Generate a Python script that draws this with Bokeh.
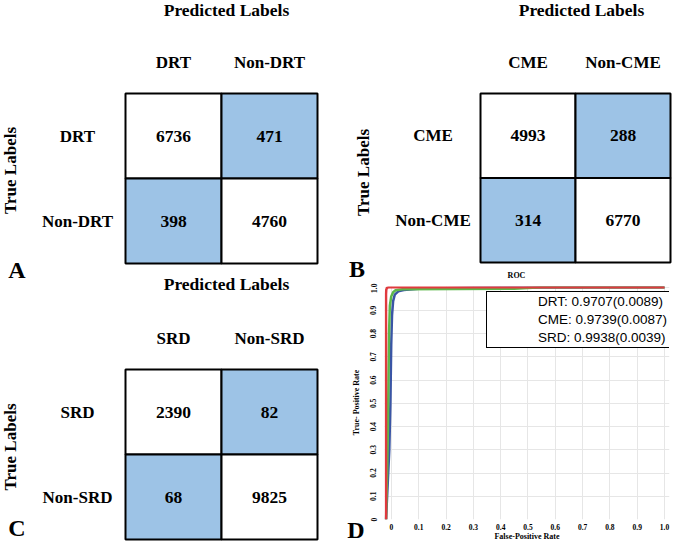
import math
from bokeh.plotting import figure
from bokeh.layouts import row, column
from bokeh.models import (ColumnDataSource, Range1d, LabelSet,
                          Legend, LegendItem, FixedTicker)
from bokeh.core.properties import value
from bokeh.embed import file_html
from bokeh.resources import INLINE

# ---------------- data ----------------
drt_classes = ["DRT", "Non-DRT"]
drt_counts = [6736, 471, 398, 4760]          # rows = true, cols = predicted
cme_classes = ["CME", "Non-CME"]
cme_counts = [4993, 288, 314, 6770]
srd_classes = ["SRD", "Non-SRD"]
srd_counts = [2390, 82, 68, 9825]

roc_names = ["DRT", "CME", "SRD"]
roc_auc = ["0.9707", "0.9739", "0.9938"]
roc_sd = ["0.0089", "0.0087", "0.0039"]

fpr_drt = [-0.02, -0.014, -0.008, -0.004, -0.001, 0.002, 0.006, 0.012, 0.025, 0.045, 0.1, 0.3, 1.0]
tpr_drt = [0.0, 0.15, 0.3, 0.5, 0.75, 0.88, 0.94, 0.968, 0.982, 0.988, 0.993, 0.998, 1.0]
fpr_cme = [-0.02, -0.016, -0.013, -0.011, -0.009, -0.006, -0.001, 0.006, 0.015, 0.04, 0.45, 0.55, 1.0]
tpr_cme = [0.0, 0.2, 0.4, 0.6, 0.8, 0.92, 0.96, 0.978, 0.987, 0.991, 0.993, 1.0, 1.0]
fpr_srd = [-0.02, -0.02, -0.019, -0.016, -0.01, 1.0]
tpr_srd = [0.0, 0.97, 0.99, 0.998, 1.0, 1.0]

roc_ticks = [0, 0.1, 0.2, 0.3, 0.4, 0.5, 0.6, 0.7, 0.8, 0.9, 1.0]
roc_tick_labels = ["0", "0.1", "0.2", "0.3", "0.4", "0.5", "0.6", "0.7", "0.8", "0.9", "1.0"]

# ---------------- styles ----------------
SERIF = "Liberation Serif"
SANS = "Liberation Sans"
CELL_BLUE = "#9dc3e6"
CURVE_COLORS = ["#3a55a5", "#5db84a", "#e03a3e"]


def label_set(p, xs, ys, texts, size, dx=0, dy=0, angle=0.0):
    src = ColumnDataSource(dict(x=xs, y=ys, text=texts))
    ls = LabelSet(x="x", y="y", text="text", source=src, x_offset=dx, y_offset=dy,
                  angle=angle, text_align="center", text_baseline="middle",
                  text_font=value(SERIF), text_font_style="bold",
                  text_font_size=size, text_color="black")
    p.add_layout(ls)
    return ls


def panel_figure(W, H, cw, ch, ox, oy):
    """Full-frame panel; one data unit = one matrix cell (cw x ch pixels),
    data origin at pixel (ox, oy) measured from the panel's top-left."""
    p = figure(width=W, height=H,
               x_range=Range1d(-ox / cw, (W - ox) / cw),
               y_range=Range1d(-(H - oy) / ch, oy / ch),
               x_axis_location=None, y_axis_location=None,
               toolbar_location=None, tools="", output_backend="svg",
               min_border=0, title=None)
    p.frame_align = False
    p.grid.visible = False
    p.outline_line_color = None
    return p


def draw_matrix(p, classes, counts, by, col_dy, title_dx, title_dy, row_dx,
                ylab_dx, ylab_dy, letter=None, letter_dx=0, letter_dy=0):
    n = len(classes)
    xs, ys, txt, cols = [], [], [], []
    for i, t in enumerate(classes):
        for j, pr in enumerate(classes):
            xs.append(j + 0.5)
            ys.append(by + n - 1 - i + 0.5)
            txt.append(str(counts[i * n + j]))
            cols.append("white" if i == j else CELL_BLUE)
    src = ColumnDataSource(dict(x=xs, y=ys, text=txt, color=cols))
    p.rect(x="x", y="y", width=1, height=1, source=src, fill_color="color",
           line_color="black", line_width=2)
    p.text(x="x", y="y", text="text", source=src, text_align="center",
           text_baseline="middle", text_font=value(SERIF), text_font_style="bold",
           text_font_size="17.5px", text_color="black")
    centers = [k + 0.5 for k in range(n)]
    top = by + n
    label_set(p, centers, [top] * n, list(classes), "17px", 0, col_dy)
    label_set(p, [n / 2], [top], ["Predicted Labels"], "17.5px", title_dx, title_dy)
    label_set(p, [0] * n, [by + c for c in centers[::-1]], list(classes), "17px", row_dx, 0)
    label_set(p, [0], [by + n / 2], ["True Labels"], "17px", ylab_dx, ylab_dy, math.pi / 2)
    if letter:
        label_set(p, [0], [by], [letter], "24px", letter_dx, letter_dy)


# left column: panels A and C share one full-frame figure
pL = panel_figure(336, 543, 96, 85, 125, 539)
draw_matrix(pL, drt_classes, drt_counts, (539 - 263) / 85, 31, 5, 84, -48, -115, 8,
            "A", -108.5, -6)
draw_matrix(pL, srd_classes, srd_counts, 0, 31, 5, 86, -48, -115, 7.5,
            "C", -108.5, 11.5)

# right top: panel B
pB = panel_figure(337, 283, 95, 84.5, 144, 262)
draw_matrix(pB, cme_classes, cme_counts, 0, 31, 6, 84, -47.5, -117.5, 5.5,
            "B", -123.5, -6.5)
label_set(pB, [0], [0], ["ROC"], "8px", 36, -13)

# right bottom: strip with the y-axis title and the panel letter, then the ROC plot
pS = figure(width=30, height=260, x_range=Range1d(0, 1), y_range=Range1d(0, 1),
            x_axis_location=None, y_axis_location=None, toolbar_location=None,
            tools="", output_backend="svg", min_border=0, title=None)
pS.frame_align = False
pS.grid.visible = False
pS.outline_line_color = None
label_set(pS, [0], [0], ["True- Positive Rate"], "8px", 20, 141, math.pi / 2)
label_set(pS, [0], [0], ["D"], "24px", 19.5, 13.5)

pD = figure(width=307, height=260, x_range=Range1d(-0.0256, 1.0183),
            y_range=Range1d(0.0, 1.003), toolbar_location=None, tools="",
            output_backend="svg", min_border_left=18, min_border_right=4,
            min_border_top=3, min_border_bottom=24, title=None)
pD.frame_align = False
pD.outline_line_color = None

overrides = dict(zip(roc_ticks, roc_tick_labels))
for ax in (pD.xaxis[0], pD.yaxis[0]):
    ax.ticker = FixedTicker(ticks=roc_ticks)
    ax.major_label_overrides = overrides
    ax.axis_line_color = None
    ax.major_tick_line_color = None
    ax.minor_tick_line_color = None
    ax.major_label_text_font = SERIF
    ax.major_label_text_font_style = "bold"
    ax.major_label_text_font_size = "7.5px"
    ax.major_label_text_color = "black"
    ax.axis_label_text_font = SERIF
    ax.axis_label_text_font_style = "bold"
    ax.axis_label_text_font_size = "8px"
    ax.axis_label_text_color = "black"
pD.xaxis[0].axis_label = "False-Positive Rate"
pD.xaxis[0].major_label_standoff = -2
pD.xaxis[0].axis_label_standoff = -1
pD.yaxis[0].major_label_orientation = "vertical"
pD.yaxis[0].major_label_standoff = 2
pD.grid.grid_line_color = "#e6e6e6"
pD.grid.grid_line_width = 1

curves = [(fpr_drt, tpr_drt), (fpr_cme, tpr_cme), (fpr_srd, tpr_srd)]
items = []
for (fx, ty), name, auc, sd, col in zip(curves, roc_names, roc_auc, roc_sd, CURVE_COLORS):
    pD.line(fx, ty, line_color=col, line_width=2.5)
    proxy = pD.line(x=[], y=[], line_color=col, line_width=4.5)
    items.append(LegendItem(label=f"{name}: {auc}({sd})", renderers=[proxy]))

legend = Legend(items=items, location=(102, 171), padding=2, spacing=3,
                glyph_width=47, glyph_height=15, label_height=15, label_standoff=2,
                label_width=130, label_text_font=SANS, label_text_font_size="13.5px",
                label_text_color="black", border_line_color="black",
                border_line_width=1.5, border_line_alpha=1,
                background_fill_color="white", background_fill_alpha=1, margin=0)
pD.add_layout(legend)

layout = row(pL, column(pB, row(pS, pD)))

with open("out.html", "w") as f:
    f.write(file_html(layout, INLINE))
